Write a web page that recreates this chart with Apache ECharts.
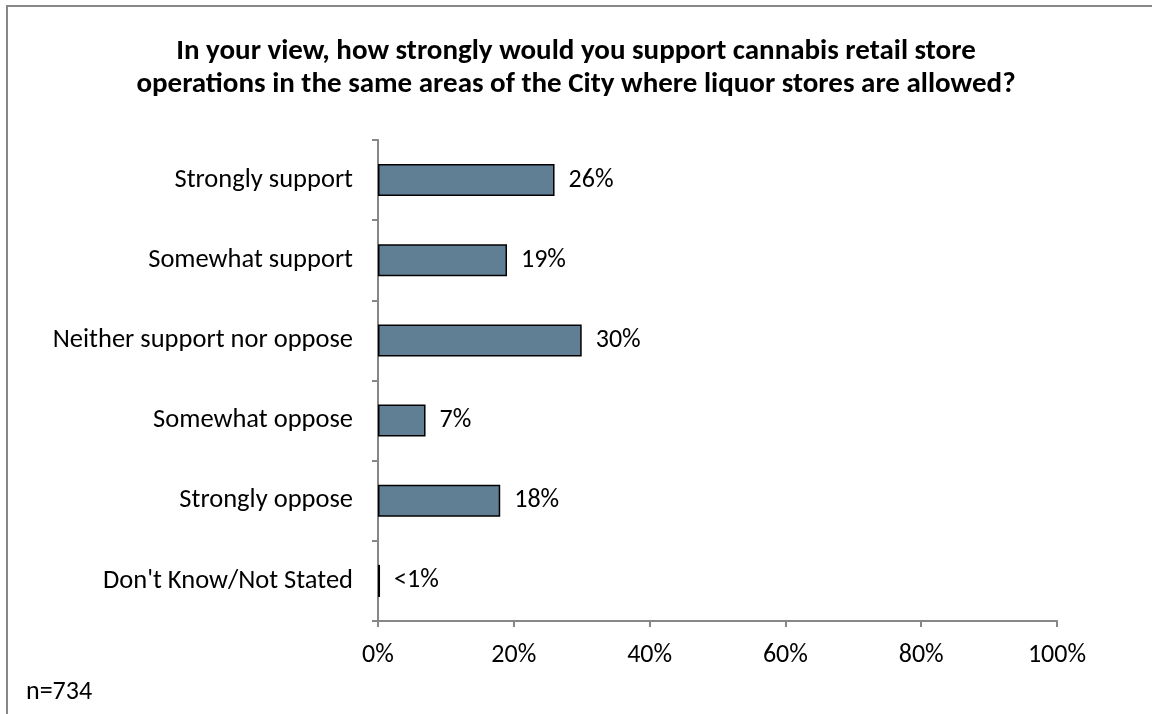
<!DOCTYPE html>
<html>
<head>
<meta charset="utf-8">
<script src="https://cdn.jsdelivr.net/npm/echarts@6/dist/echarts.min.js"></script>
<style>
  html, body { margin: 0; padding: 0; background: #fff; }
  #chart { width: 1152px; height: 714px; }
</style>
</head>
<body>
<div id="chart"></div>
<script>
// Survey responses, percent of respondents
const categories = [
  'Strongly support',
  'Somewhat support',
  'Neither support nor oppose',
  'Somewhat oppose',
  'Strongly oppose',
  "Don't Know/Not Stated"
];
const values = [26, 19, 30, 7, 18, 0.3];
const valueLabels = ['26%', '19%', '30%', '7%', '18%', '<1%'];
const xTicks = [0, 20, 40, 60, 80, 100];

const FONT = 'Carlito, Calibri, Lato, "Open Sans", sans-serif';
const AXIS_GREY = '#878787';

const chart = echarts.init(document.getElementById('chart'), null, { renderer: 'canvas' });

chart.setOption({
  animation: false,
  backgroundColor: '#ffffff',
  title: {
    text: 'In your view, how strongly would you support cannabis retail store\noperations in the same areas of the City where liquor stores are allowed?',
    left: 'center',
    top: 30,
    textStyle: {
      fontFamily: FONT,
      fontWeight: 'bold',
      fontSize: 29,
      lineHeight: 33,
      color: '#000'
    }
  },
  grid: {
    left: 378,
    right: 95,
    top: 140,
    bottom: 93,
    containLabel: false
  },
  xAxis: {
    type: 'value',
    min: 0,
    max: 100,
    interval: 20,
    axisLine: { show: true, lineStyle: { color: AXIS_GREY, width: 2 } },
    axisTick: { show: true, length: 6, lineStyle: { color: AXIS_GREY, width: 2 } },
    splitLine: { show: false },
    axisLabel: {
      margin: 21,
      fontFamily: FONT,
      fontSize: 26,
      color: '#000',
      formatter: v => (xTicks.includes(v) ? v + '%' : '')
    }
  },
  yAxis: {
    type: 'category',
    data: categories,
    inverse: true,
    axisLine: { show: true, lineStyle: { color: AXIS_GREY, width: 2 } },
    axisTick: { show: true, length: 6, lineStyle: { color: AXIS_GREY, width: 2 } },
    splitLine: { show: false },
    axisLabel: {
      margin: 25,
      fontFamily: FONT,
      fontSize: 26.5,
      color: '#000'
    }
  },
  series: [{
    type: 'bar',
    data: values,
    barCategoryGap: '60%',
    itemStyle: {
      color: '#607f94',
      borderColor: '#000',
      borderWidth: 1.5
    },
    label: {
      show: true,
      position: 'right',
      distance: 14,
      fontFamily: FONT,
      fontSize: 26,
      color: '#000',
      formatter: p => valueLabels[p.dataIndex]
    }
  }],
  graphic: [
    {
      type: 'rect',
      silent: true,
      shape: { x: 7, y: 6, width: 1300, height: 900 },
      style: { fill: 'none', stroke: AXIS_GREY, lineWidth: 2 }
    },
    {
      type: 'text',
      left: 26,
      top: 679,
      style: {
        text: 'n=734',
        fontFamily: FONT,
        fontSize: 26,
        fill: '#000'
      }
    }
  ]
});
</script>
</body>
</html>
